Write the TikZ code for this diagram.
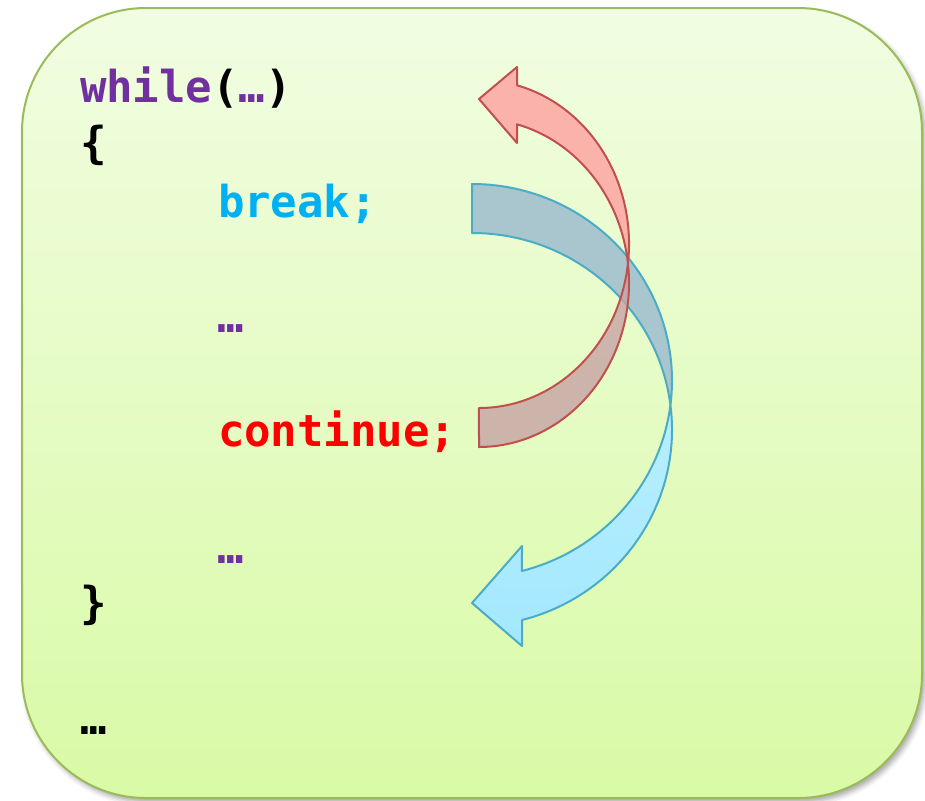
\documentclass[tikz,border=0pt]{standalone}
\usepackage{fontspec}
\setmonofont{DejaVu Sans Mono}
\usetikzlibrary{shadows.blur}

\definecolor{boxTop}{HTML}{F1FDE2}
\definecolor{boxBottom}{HTML}{D9FAA6}
\definecolor{boxBorder}{HTML}{9BBB59}
\definecolor{kwPurple}{HTML}{7030A0}
\definecolor{kwBlue}{HTML}{00B0F0}
\definecolor{kwRed}{HTML}{FF0000}
\definecolor{blueBorder}{HTML}{4BACC6}
\definecolor{blueBack}{HTML}{A9C5CE}
\definecolor{blueFrontTop}{HTML}{B8EEFF}
\definecolor{blueFrontBottom}{HTML}{A3E8FF}
\definecolor{redBorder}{HTML}{C0504D}
\definecolor{redBack}{HTML}{C7A3A5}
\definecolor{redFront}{HTML}{FFA0A0}

\begin{document}
\begin{tikzpicture}[x=0.5pt, y=-0.5pt]
\useasboundingbox (0,0) rectangle (925,800);

\coordinate (BoxNW) at (22,8);
\coordinate (BoxSE) at (922,798);

\coordinate (T1) at (80,102);
\coordinate (T2) at (80,158);
\coordinate (T3) at (218,217);
\coordinate (T4) at (217,332);
\coordinate (T5) at (218,446);
\coordinate (T6) at (217,563);
\coordinate (T7) at (80,618);
\coordinate (T8) at (80,734);

\coordinate (BlueTailTop) at (472,184);
\coordinate (BlueCross) at (670.4,405.1);
\coordinate (BlueBarbUp) at (522,546);
\coordinate (BlueTip) at (472,603);
\coordinate (BlueBarbDown) at (522,646);
\coordinate (BlueShaftDown) at (522,620);

\coordinate (RedHeadOut) at (517,85.3);
\coordinate (RedCross) at (627.9,263.5);
\coordinate (RedTailTop) at (479,408);
\coordinate (RedTailBottom) at (479,447);
\coordinate (RedHeadIn) at (517,124.3);
\coordinate (RedBarbDown) at (517,143);
\coordinate (RedTip) at (479,99);
\coordinate (RedBarbUp) at (517,67);

\tikzset{BoxStyle/.style = {
 draw = boxBorder,
 line width = 1pt,
 rounded corners = 62pt,
 top color = boxTop,
 bottom color = boxBottom,
 blur shadow = {shadow xshift=1.5pt, shadow yshift=-2pt,
  shadow blur radius=2.5pt, shadow opacity=35}} }

\path[BoxStyle] (BoxNW) rectangle (BoxSE);

\tikzset{BlueArc/.style = {x radius=100pt, y radius=98.3pt},
 RedArc/.style = {x radius=75pt, y radius=82pt},
 BlueBand/.style = {draw=blueBorder, line width=1pt, line join=round},
 RedBand/.style = {draw=redBorder, line width=1pt, line join=round, fill opacity=0.8}}

\draw[BlueBand, fill=blueBack] (BlueTailTop)
 arc[BlueArc, start angle=90, end angle=-7.16]
 arc[BlueArc, start angle=7.16, end angle=90] -- cycle;
\draw[BlueBand, top color=blueFrontTop, bottom color=blueFrontBottom] (BlueCross)
 arc[BlueArc, start angle=-7.16, end angle=-75.52]
 -- (BlueBarbUp) -- (BlueTip) -- (BlueBarbDown) -- (BlueShaftDown)
 arc[BlueArc, start angle=-75.52, end angle=7.16] -- cycle;

\draw[RedBand, fill=redBack] (RedCross)
 arc[RedArc, start angle=-6.83, end angle=-90]
 -- (RedTailBottom)
 arc[RedArc, start angle=-90, end angle=6.83] -- cycle;
\draw[RedBand, fill=redFront] (RedHeadOut)
 arc[RedArc, start angle=75.33, end angle=-6.83]
 arc[RedArc, start angle=6.83, end angle=75.33]
 -- (RedBarbDown) -- (RedTip) -- (RedBarbUp) -- cycle;

\tikzset{CodeStyle/.style = {
 anchor = base west,
 inner sep = 0pt,
 outer sep = 0pt,
 font = \ttfamily\bfseries\fontsize{22}{26}\selectfont} }

\node[CodeStyle, text=kwPurple] (C1) at (T1) {while\textcolor{black}{(}…\textcolor{black}{)}};
\node[CodeStyle, text=black] (C2) at (T2) {\{};
\node[CodeStyle, text=kwBlue] (C3) at (T3) {break;};
\node[CodeStyle, text=kwPurple] (C4) at (T4) {…};
\node[CodeStyle, text=kwRed] (C5) at (T5) {continue;};
\node[CodeStyle, text=kwPurple] (C6) at (T6) {…};
\node[CodeStyle, text=black] (C7) at (T7) {\}};
\node[CodeStyle, text=black] (C8) at (T8) {…};

\end{tikzpicture}
\end{document}
